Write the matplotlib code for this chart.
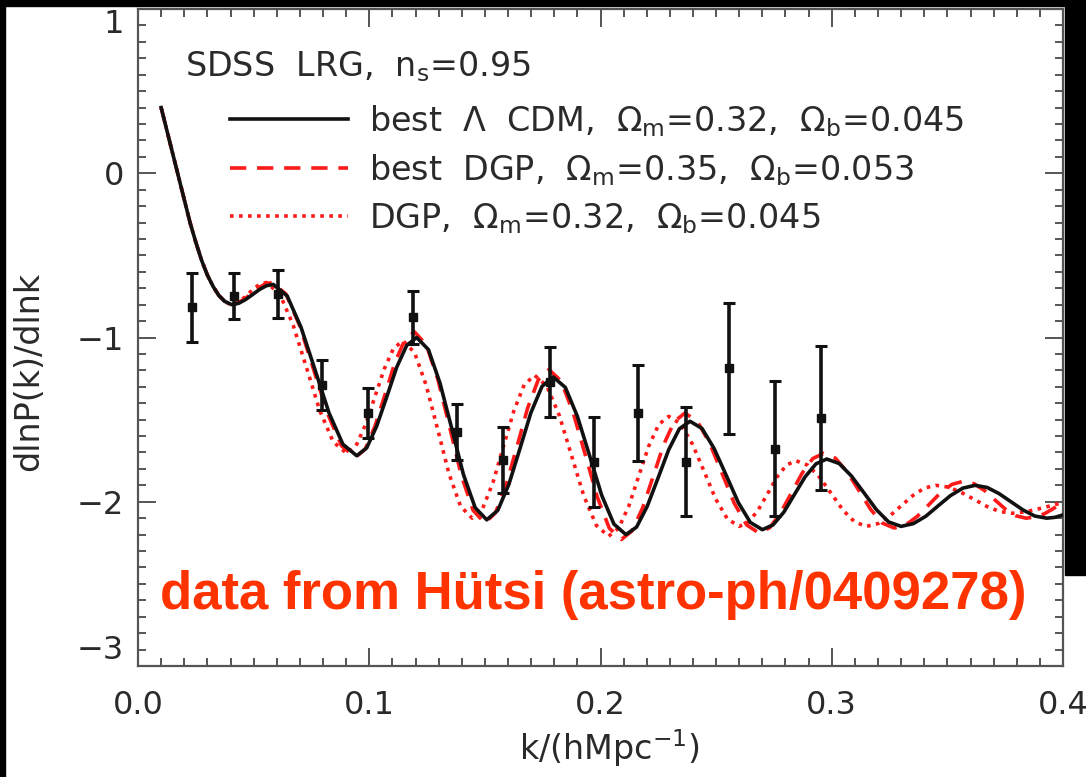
import matplotlib
matplotlib.use("Agg")
import matplotlib.pyplot as plt
from matplotlib.ticker import MultipleLocator
from matplotlib.patches import Rectangle

plt.rcParams['font.family'] = ['DejaVu Sans']
plt.rcParams['mathtext.fontset'] = 'dejavusans'

# ---- data ----
k_data = [0.0234, 0.0415, 0.0605, 0.0796, 0.0995, 0.119, 0.138, 0.158,
          0.178, 0.197, 0.216, 0.237, 0.2557, 0.2755, 0.2954]
y_data = [-0.817, -0.75, -0.735, -1.29, -1.46, -0.878, -1.577, -1.745,
          -1.27, -1.756, -1.46, -1.756, -1.187, -1.677, -1.49]
y_err = [0.21, 0.14, 0.145, 0.15, 0.15, 0.16, 0.17, 0.20,
         0.215, 0.275, 0.29, 0.33, 0.40, 0.41, 0.44]

# common steep start of all three curves
k_start = [0.010, 0.0125, 0.015, 0.0175, 0.020, 0.0225, 0.025, 0.0275,
           0.030, 0.0325, 0.035, 0.0375]
y_start = [0.40, 0.26, 0.12, -0.02, -0.16, -0.30, -0.42, -0.53,
           -0.62, -0.69, -0.745, -0.78]

k_lcdm = k_start + [
    0.0405, 0.0435, 0.0465, 0.0495, 0.0525, 0.0555, 0.0585,
    0.0645, 0.0705, 0.0766, 0.0826, 0.0886, 0.0946,
    0.0989, 0.1032, 0.1076, 0.1119, 0.1162, 0.1205,
    0.1256, 0.1306, 0.1357, 0.1407, 0.1458, 0.1508,
    0.1556, 0.1604, 0.1652, 0.1699, 0.1747, 0.1795,
    0.1848, 0.1900, 0.1953, 0.2005, 0.2058, 0.2110,
    0.2156, 0.2202, 0.2249, 0.2295, 0.2341, 0.2387,
    0.2439, 0.2491, 0.2544, 0.2596, 0.2648, 0.2700,
    0.2746, 0.2793, 0.2839, 0.2885, 0.2932, 0.2978,
    0.3032, 0.3085, 0.3139, 0.3193, 0.3246, 0.3300,
    0.3353, 0.3407, 0.3460, 0.3513, 0.3567, 0.3620,
    0.3672, 0.3723, 0.3775, 0.3827, 0.3878, 0.3930,
    0.3965, 0.4000]
y_lcdm = y_start + [
    -0.800, -0.792, -0.769, -0.739, -0.708, -0.685, -0.677,
    -0.747, -0.938, -1.199, -1.459, -1.650, -1.720,
    -1.672, -1.540, -1.360, -1.180, -1.048, -1.000,
    -1.074, -1.278, -1.555, -1.833, -2.036, -2.110,
    -2.052, -1.893, -1.675, -1.458, -1.298, -1.240,
    -1.304, -1.480, -1.720, -1.960, -2.136, -2.200,
    -2.154, -2.028, -1.855, -1.683, -1.556, -1.510,
    -1.554, -1.675, -1.840, -2.005, -2.126, -2.170,
    -2.141, -2.063, -1.955, -1.848, -1.769, -1.740,
    -1.767, -1.843, -1.945, -2.048, -2.123, -2.150,
    -2.133, -2.088, -2.025, -1.963, -1.917, -1.900,
    -1.913, -1.950, -2.000, -2.050, -2.087, -2.100,
    -2.095, -2.080]

k_dgp_best = k_start + [
    0.0400, 0.0430, 0.0460, 0.0490, 0.0520, 0.0550, 0.0580,
    0.0640, 0.0700, 0.0760, 0.0820, 0.0880, 0.0940,
    0.0983, 0.1025, 0.1068, 0.1110, 0.1153, 0.1195,
    0.1246, 0.1297, 0.1348, 0.1398, 0.1449, 0.1500,
    0.1546, 0.1592, 0.1639, 0.1685, 0.1731, 0.1777,
    0.1829, 0.1881, 0.1934, 0.1986, 0.2038, 0.2090,
    0.2136, 0.2182, 0.2228, 0.2273, 0.2319, 0.2365,
    0.2418, 0.2472, 0.2525, 0.2578, 0.2632, 0.2685,
    0.2732, 0.2778, 0.2825, 0.2872, 0.2918, 0.2965,
    0.3016, 0.3067, 0.3118, 0.3168, 0.3219, 0.3270,
    0.3320, 0.3370, 0.3420, 0.3470, 0.3520, 0.3570,
    0.3615, 0.3660, 0.3705, 0.3750, 0.3795, 0.3840,
    0.3880, 0.3920, 0.3960, 0.4000]
y_dgp_best = y_start + [
    -0.800, -0.791, -0.766, -0.733, -0.699, -0.674, -0.665,
    -0.736, -0.931, -1.198, -1.464, -1.659, -1.730,
    -1.679, -1.539, -1.348, -1.156, -1.017, -0.965,
    -1.043, -1.256, -1.548, -1.839, -2.052, -2.130,
    -2.067, -1.896, -1.663, -1.429, -1.257, -1.195,
    -1.264, -1.454, -1.713, -1.971, -2.161, -2.230,
    -2.178, -2.038, -1.845, -1.653, -1.512, -1.460,
    -1.509, -1.643, -1.825, -2.008, -2.141, -2.190,
    -2.158, -2.069, -1.948, -1.826, -1.737, -1.705,
    -1.735, -1.819, -1.933, -2.046, -2.130, -2.160,
    -2.141, -2.089, -2.018, -1.946, -1.894, -1.875,
    -1.890, -1.931, -1.988, -2.044, -2.085, -2.100,
    -2.093, -2.073, -2.040, -2.000]

k_dgp = k_start + [
    0.0400, 0.0426, 0.0452, 0.0478, 0.0503, 0.0529, 0.0555,
    0.0613, 0.0671, 0.0729, 0.0786, 0.0844, 0.0902,
    0.0943, 0.0983, 0.1024, 0.1065, 0.1105, 0.1146,
    0.1196, 0.1246, 0.1296, 0.1345, 0.1395, 0.1445,
    0.1490, 0.1535, 0.1580, 0.1625, 0.1670, 0.1715,
    0.1768, 0.1822, 0.1875, 0.1928, 0.1982, 0.2035,
    0.2078, 0.2122, 0.2165, 0.2208, 0.2252, 0.2295,
    0.2346, 0.2397, 0.2448, 0.2498, 0.2549, 0.2600,
    0.2641, 0.2682, 0.2723, 0.2763, 0.2804, 0.2845,
    0.2896, 0.2947, 0.2998, 0.3048, 0.3099, 0.3150,
    0.3200, 0.3250, 0.3300, 0.3350, 0.3400, 0.3450,
    0.3505, 0.3560, 0.3615, 0.3670, 0.3725, 0.3780,
    0.3835, 0.3890, 0.3945, 0.4000]
y_dgp = y_start + [
    -0.800, -0.791, -0.766, -0.733, -0.699, -0.674, -0.665,
    -0.735, -0.925, -1.185, -1.445, -1.635, -1.705,
    -1.659, -1.534, -1.363, -1.191, -1.066, -1.020,
    -1.092, -1.290, -1.560, -1.830, -2.028, -2.100,
    -2.042, -1.883, -1.665, -1.448, -1.288, -1.230,
    -1.296, -1.475, -1.720, -1.965, -2.144, -2.210,
    -2.161, -2.028, -1.845, -1.663, -1.529, -1.480,
    -1.525, -1.648, -1.815, -1.983, -2.105, -2.150,
    -2.123, -2.050, -1.950, -1.850, -1.777, -1.750,
    -1.777, -1.850, -1.950, -2.050, -2.123, -2.150,
    -2.133, -2.088, -2.025, -1.963, -1.917, -1.900,
    -1.911, -1.943, -1.985, -2.028, -2.059, -2.070,
    -2.062, -2.045, -2.025, -2.005]

y_ticks = [-3, -2, -1, 0, 1]
y_ticklabels = ['\u22123', '\u22122', '\u22121', '0', '1']
x_ticks = [0.0, 0.1, 0.2, 0.3, 0.4]
x_ticklabels = ['0.0', '0.1', '0.2', '0.3', '0.4']

title_text = r"SDSS  LRG,  n$_\mathrm{s}$=0.95"
labels = [r"best  $\Lambda$  CDM,  $\Omega_\mathrm{m}$=0.32,  $\Omega_\mathrm{b}$=0.045",
          r"best  DGP,  $\Omega_\mathrm{m}$=0.35,  $\Omega_\mathrm{b}$=0.053",
          r"DGP,  $\Omega_\mathrm{m}$=0.32,  $\Omega_\mathrm{b}$=0.045"]
note = "data from Hütsi (astro-ph/0409278)"

# ---- figure ----
W, H = 1086, 777
fig = plt.figure(figsize=(W / 100, H / 100), dpi=100)
ax = fig.add_axes([138 / W, 1 - 666 / H, (1063 - 138) / W, (666 - 9) / H])

tc = '#2a2a2a'
red = '#ff1a1a'

l1, = ax.plot(k_lcdm, y_lcdm, color='#111111', lw=2.6, solid_joinstyle='round', zorder=4)
l2, = ax.plot(k_dgp_best, y_dgp_best, color=red, lw=2.6, ls=(0, (4.5, 3.0)), zorder=3)
l3, = ax.plot(k_dgp, y_dgp, color=red, lw=2.6, ls=(0, (1.0, 1.5)), zorder=2)

ax.errorbar(k_data, y_data, yerr=y_err, fmt='s', color='#111111', ms=5.5,
            elinewidth=2.6, capsize=4, capthick=2.2, zorder=5)

ax.set_xlim(0.0, 0.4)
ax.set_ylim(-3, 1)
ax.set_xticks(x_ticks, x_ticklabels)
ax.set_yticks(y_ticks, y_ticklabels)
ax.xaxis.set_minor_locator(MultipleLocator(0.01))
ax.yaxis.set_minor_locator(MultipleLocator(0.1))

for s in ax.spines.values():
    s.set_color('#555555')
    s.set_linewidth(1.6)

ax.tick_params(which='both', direction='in', top=True, right=True,
               color='#555555', width=1.4, labelcolor=tc, labelsize=23)
ax.tick_params(which='major', length=13)
ax.tick_params(which='minor', length=6)
ax.tick_params(axis='x', which='major', pad=17)
ax.tick_params(axis='y', which='major', pad=10)

ylabs = ax.get_yticklabels()
ylabs[0].set_verticalalignment('bottom')
ylabs[-1].set_verticalalignment('top')

ax.set_xlabel(r"k/(hMpc$^{-1}$)", fontsize=24, color=tc)
ax.xaxis.set_label_coords(0.51, -0.093)
ax.set_ylabel("dlnP(k)/dlnk", fontsize=24, color=tc)
ax.yaxis.set_label_coords(-0.10, 0.448)

ax.text(0.051, 0.913, title_text, transform=ax.transAxes, fontsize=24,
        color=tc, ha='left', va='center')
leg = ax.legend([l1, l2, l3], labels, loc='upper left',
                bbox_to_anchor=(0.0995, 0.857), frameon=False, fontsize=24,
                handlelength=3.55, handletextpad=0.62, labelspacing=0.40,
                borderpad=0, borderaxespad=0)
for t in leg.get_texts():
    t.set_color(tc)

ax.text(0.492, 0.108, note, transform=ax.transAxes, fontsize=38,
        fontweight='bold', color='#ff3300', ha='center', va='center',
        family=['Liberation Sans', 'DejaVu Sans'], zorder=6)

# black frame remnants at image edges
fig.patches.append(Rectangle((0, 0), 5 / W, 1, transform=fig.transFigure,
                             color='black', zorder=10))
fig.patches.append(Rectangle((0, 1 - 6 / H), 1, 6 / H, transform=fig.transFigure,
                             color='black', zorder=10))
fig.patches.append(Rectangle((1065 / W, 1 - 575 / H), 21 / W, 575 / H,
                             transform=fig.transFigure, color='black', zorder=10))

fig.savefig("out.png", dpi=100)
